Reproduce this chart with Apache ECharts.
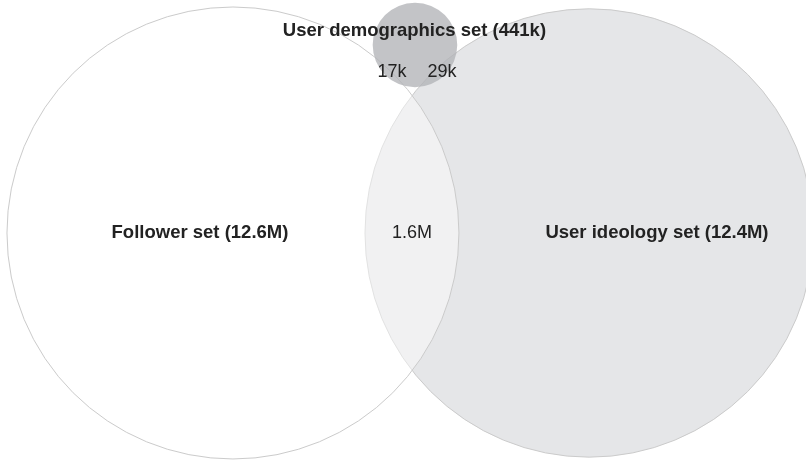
<!DOCTYPE html>
<html>
<head>
<meta charset="utf-8">
<script src="https://cdn.jsdelivr.net/npm/echarts@6/dist/echarts.min.js"></script>
<style>html,body{margin:0;padding:0;background:#fff}#c{width:806px;height:461px}</style>
</head>
<body>
<div id="c"></div>
<script>
// Sets: name, size in millions, centre in layout units (1 unit = radius of a 1M set)
const setNames = ['Follower set', 'User ideology set', 'User demographics set'];
const setSizesM = [12.6, 12.4, 0.441];
const setCenterX = [3.659, 9.254, 6.518];
const setCenterY = [3.659, 3.659, 0.707];

// Labels
const labelTexts = ['Follower set (12.6M)', 'User ideology set (12.4M)', 'User demographics set (441k)', '1.6M', '17k', '29k'];
const labelX = [3.141, 10.319, 6.51, 6.471, 6.157, 6.942];
const labelY = [3.659, 3.659, 0.487, 3.659, 1.131, 1.131];
const labelBold = [true, true, true, false, false, false];

const fills = ['rgba(255,255,255,0.45)', '#e5e6e8', 'rgba(178,179,183,0.78)'];
const drawOrder = [1, 0, 2];

const chart = echarts.init(document.getElementById('c'), null, {renderer: 'canvas'});
chart.setOption({
  animation: false,
  backgroundColor: '#ffffff',
  grid: {left: 0, right: 0, top: 0, bottom: 0, containLabel: false},
  xAxis: {type: 'value', min: 0, max: 12.66, show: false},
  yAxis: {type: 'value', min: 0, max: 7.24, inverse: true, show: false},
  series: [
    {
      type: 'custom',
      coordinateSystem: 'cartesian2d',
      clip: false,
      data: drawOrder.map(i => [setCenterX[i], setCenterY[i], Math.sqrt(setSizesM[i]), i]),
      renderItem: function (params, api) {
        const c = api.coord([api.value(0), api.value(1)]);
        const r = api.size([api.value(2), 0])[0];
        const idx = api.value(3);
        return {
          type: 'circle',
          shape: {cx: c[0], cy: c[1], r: r},
          style: {fill: fills[idx], stroke: idx === 2 ? 'rgba(0,0,0,0)' : '#cbcbcb', lineWidth: 1}
        };
      }
    },
    {
      type: 'custom',
      coordinateSystem: 'cartesian2d',
      clip: false,
      data: labelTexts.map((t, i) => [labelX[i], labelY[i], i]),
      renderItem: function (params, api) {
        const c = api.coord([api.value(0), api.value(1)]);
        const i = api.value(2);
        return {
          type: 'text',
          x: c[0], y: c[1],
          style: {
            text: labelTexts[i],
            fill: '#222222',
            font: (labelBold[i] ? 'bold 18.5px ' : '18px ') + '"Liberation Sans", Arial, sans-serif',
            textAlign: 'center',
            textVerticalAlign: 'middle'
          }
        };
      }
    }
  ]
});
</script>
</body>
</html>
